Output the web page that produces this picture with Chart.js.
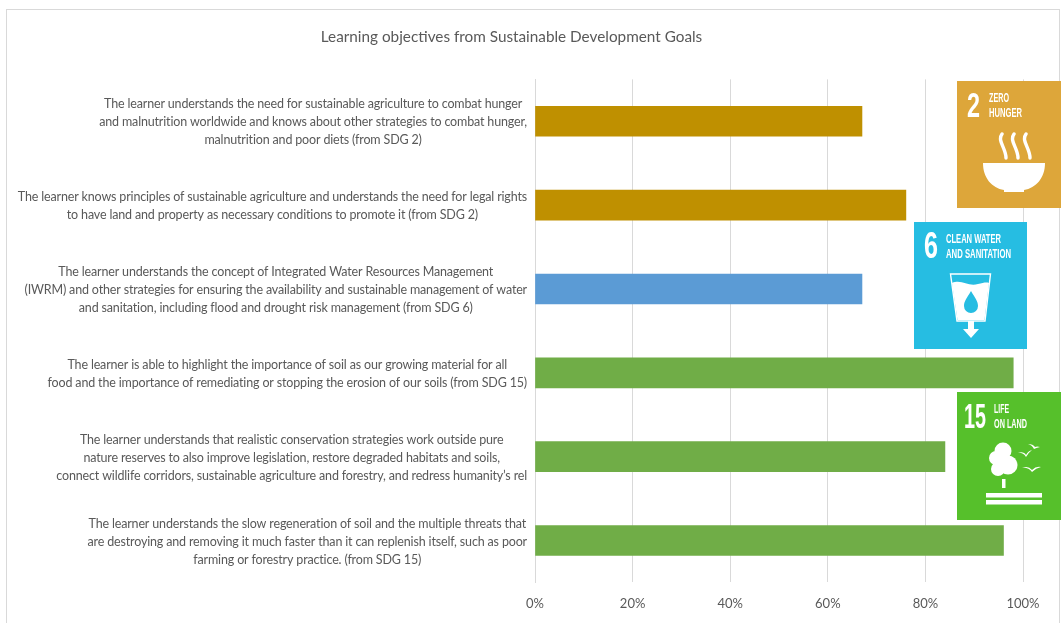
<!DOCTYPE html>
<html>
<head>
<meta charset="utf-8">
<title>Learning objectives from Sustainable Development Goals</title>
<script src="https://cdn.jsdelivr.net/npm/chart.js@4/dist/chart.umd.min.js"></script>
<style>
  html, body { margin: 0; padding: 0; background: #fff; overflow: hidden; }
  #wrap { position: relative; width: 1061px; height: 623px; }
  #frame { position: absolute; left: 6px; top: 9px; width: 1052px; height: 640px; border: 1px solid #d9d9d9; }
  #chart { position: absolute; left: 0; top: 0; }
  #icons { position: absolute; left: 0; top: 0; }
  #icons text { font-family: "Liberation Sans Narrow", "Liberation Sans", sans-serif; fill: #fff; font-weight: bold; }
</style>
</head>
<body>
<div id="wrap">
  <div id="frame"></div>
  <canvas id="chart" width="1061" height="623"></canvas>
  <svg id="icons" width="1061" height="623">
    <!-- SDG 2 -->
    <rect x="957" y="81" width="104" height="127" fill="#DDA63A"/>
    <text x="967" y="117" font-size="35" textLength="13" lengthAdjust="spacingAndGlyphs">2</text>
    <text x="989" y="102" font-size="13" textLength="20" lengthAdjust="spacingAndGlyphs">ZERO</text>
    <text x="989" y="117" font-size="13" textLength="33" lengthAdjust="spacingAndGlyphs">HUNGER</text>
    <path d="M983 163H1045C1045 178 1036 188 1024 190V192H1004V190C992 188 983 178 983 163Z" fill="#fff"/>
    <path d="M1002 134C997 141 1006 148 1006 158M1014 134C1009 141 1018 148 1018 158M1026 134C1021 141 1030 148 1030 158" fill="none" stroke="#fff" stroke-width="3.4" stroke-linecap="round"/>
    <!-- SDG 6 -->
    <rect x="914" y="222" width="113" height="127" fill="#26BDE2"/>
    <text x="924" y="258" font-size="36" textLength="14" lengthAdjust="spacingAndGlyphs">6</text>
    <text x="946" y="243" font-size="13" textLength="55" lengthAdjust="spacingAndGlyphs">CLEAN WATER</text>
    <text x="946" y="258" font-size="13" textLength="65" lengthAdjust="spacingAndGlyphs">AND SANITATION</text>
    <path d="M950.5 274H990.5L985 321H957Z" fill="none" stroke="#fff" stroke-width="1.4"/>
    <path d="M952 283C962 279 968 287 978 284C983 283 986 282 989 283L984.5 320H957.5Z" fill="#fff"/>
    <path d="M968 321H974V329H979L971 338L963 329H968Z" fill="#fff"/>
    <path d="M971 291C967 298 964 301 964 306A7 7 0 0 0 978 306C978 301 975 298 971 291Z" fill="#26BDE2"/>
    <!-- SDG 15 -->
    <rect x="957" y="392" width="104" height="128" fill="#56C02B"/>
    <text x="964" y="428" font-size="35" textLength="22" lengthAdjust="spacingAndGlyphs">15</text>
    <text x="994" y="413" font-size="13" textLength="15" lengthAdjust="spacingAndGlyphs">LIFE</text>
    <text x="994" y="428" font-size="13" textLength="33" lengthAdjust="spacingAndGlyphs">ON LAND</text>
    <circle cx="1003" cy="451" r="8.5" fill="#fff"/>
    <circle cx="996" cy="458" r="7" fill="#fff"/>
    <circle cx="1008" cy="465" r="9.5" fill="#fff"/>
    <circle cx="998" cy="469" r="7" fill="#fff"/>
    <rect x="1002" y="479" width="3.5" height="9" fill="#fff"/>
    <rect x="986" y="493" width="56" height="4.5" fill="#fff"/>
    <rect x="986" y="500" width="56" height="4.5" fill="#fff"/>
    <path d="M1017 453Q1024 451 1026 455Q1028 451 1032 450Q1028 453 1026 457Q1023 452 1017 453ZM1028 444Q1033 444 1035 447Q1037 446 1040 447Q1036 448 1034 449Q1032 445 1028 444ZM1022 468Q1028 465 1032 470Q1036 466 1041 467Q1036 468 1032 472Q1028 467 1022 468Z" fill="#fff"/>
  </svg>
</div>
<script>
const chartTitle = 'Learning objectives from Sustainable Development Goals';

const categories = [
  ['The learner understands the need for sustainable agriculture to combat hunger',
   'and malnutrition worldwide and knows about other strategies to combat hunger,',
   'malnutrition and poor diets (from SDG 2)'],
  ['The learner knows principles of sustainable agriculture and understands the need for legal rights',
   'to have land and property as necessary conditions to promote it (from SDG 2)'],
  ['The learner understands the concept of Integrated Water Resources Management',
   '(IWRM) and other strategies for ensuring the availability and sustainable management of water',
   'and sanitation, including flood and drought risk management (from SDG 6)'],
  ['The learner is able to highlight the importance of soil as our growing material for all',
   'food and the importance of remediating or stopping the erosion of our soils (from SDG 15)'],
  ['The learner understands that realistic conservation strategies work outside pure',
   'nature reserves to also improve legislation, restore degraded habitats and soils,',
   'connect wildlife corridors, sustainable agriculture and forestry, and redress humanity\u2019s rel'],
  ['The learner understands the slow regeneration of soil and the multiple threats that',
   'are destroying and removing it much faster than it can replenish itself, such as poor',
   'farming or forestry practice. (from SDG 15)']
];
const values = [67, 76, 67, 98, 84, 96];
const barColors = ['#BF9000', '#BF9000', '#5B9BD5', '#70AD47', '#70AD47', '#70AD47'];

const labelFont = '12.5px Lato, sans-serif';

// category labels are right aligned as a block, but centred line by line
const blockLabels = {
  id: 'blockLabels',
  afterDraw(chart) {
    const ctx = chart.ctx;
    const y = chart.scales.y;
    ctx.save();
    ctx.font = labelFont;
    ctx.letterSpacing = '-0.16px';
    ctx.fillStyle = '#595959';
    ctx.textAlign = 'center';
    ctx.textBaseline = 'middle';
    chart.data.labels.forEach((lines, i) => {
      const widest = Math.max(...lines.map(l => ctx.measureText(l).width));
      const cx = y.right - 8 - widest / 2;
      const top = y.getPixelForValue(i) + 1 - (lines.length - 1) * 18 / 2;
      lines.forEach((line, j) => ctx.fillText(line, cx, top + j * 18));
    });
    ctx.restore();
  }
};

new Chart(document.getElementById('chart'), {
  type: 'bar',
  data: {
    labels: categories,
    datasets: [{ data: values, backgroundColor: barColors, barThickness: 30 }]
  },
  plugins: [blockLabels],
  options: {
    indexAxis: 'y',
    responsive: false,
    animation: false,
    layout: { padding: { left: 0, right: 38, top: 0, bottom: -3 } },
    plugins: {
      legend: { display: false },
      tooltip: { enabled: false },
      title: {
        display: true,
        text: chartTitle,
        color: '#595959',
        font: { family: 'Lato, sans-serif', size: 15.3, weight: 'normal' },
        padding: { top: 28, bottom: 33 }
      }
    },
    scales: {
      x: {
        min: 0,
        max: 100,
        grid: { color: '#d9d9d9', drawTicks: false },
        border: { display: false },
        ticks: {
          stepSize: 20,
          padding: 14,
          color: '#595959',
          font: { family: 'Lato, sans-serif', size: 13 },
          callback: v => v + '%'
        }
      },
      y: {
        grid: { display: false },
        border: { color: '#d9d9d9' },
        ticks: { display: false },
        afterFit: scale => { scale.width = 535; }
      }
    }
  }
});
</script>
</body>
</html>
